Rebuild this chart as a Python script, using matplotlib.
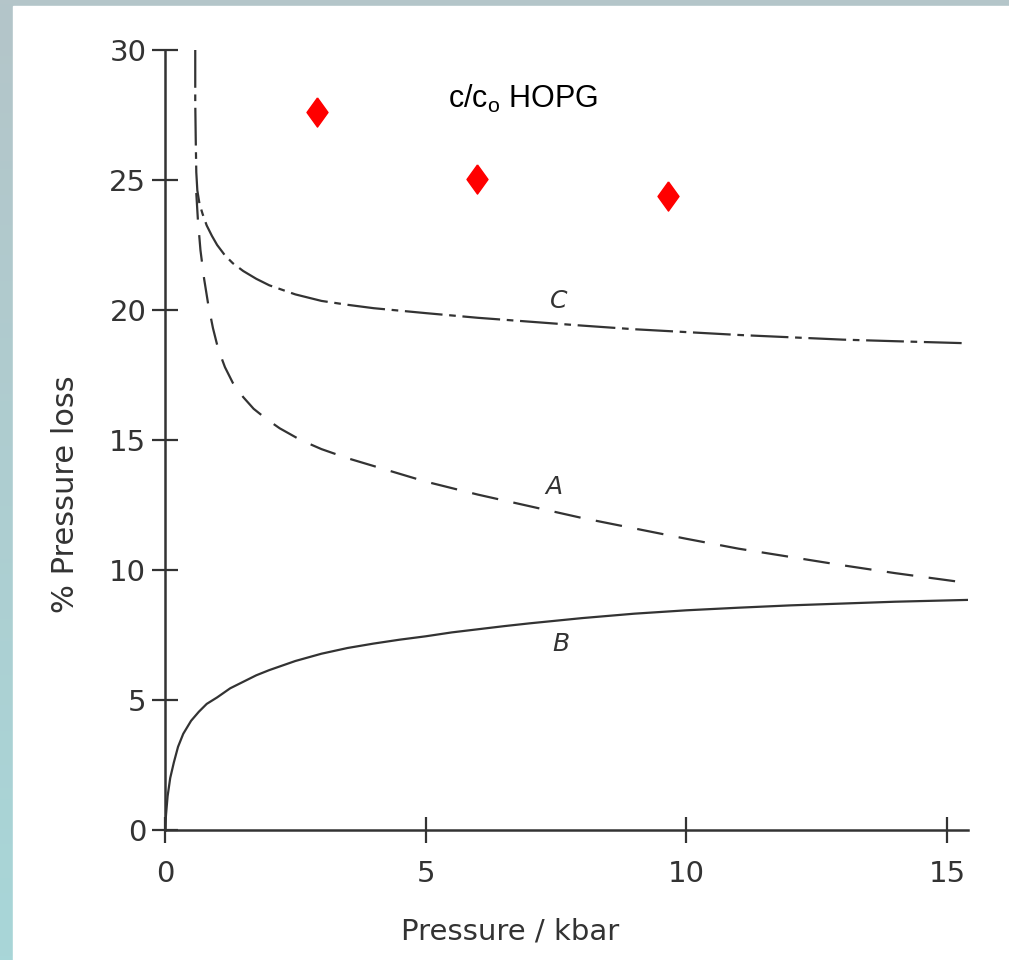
# % pressure loss vs pressure, with c/c0 HOPG points
import numpy as np
import matplotlib.pyplot as plt
from matplotlib.colors import LinearSegmentedColormap

# curve B (solid)
b_x = [0, 0.01, 0.02, 0.05, 0.1, 0.17, 0.25, 0.35, 0.5, 0.65, 0.8, 1.0, 1.25, 1.5, 1.75, 2.0, 2.5,
       3.0, 3.5, 4.0, 4.5, 5.0, 5.5, 6.0, 6.5, 7.0, 8.0, 9.0, 10.0, 11.0, 12.0, 13.0, 14.0, 15.4]
b_y = [0, 0.3, 0.6, 1.3, 2.0, 2.6, 3.2, 3.7, 4.2, 4.55, 4.85, 5.1, 5.45, 5.7, 5.95, 6.15, 6.5,
       6.78, 7.0, 7.17, 7.32, 7.45, 7.6, 7.72, 7.84, 7.95, 8.15, 8.32, 8.45, 8.55, 8.64, 8.71, 8.78, 8.85]

# curve A (dashed)
a_x = [0.6, 0.63, 0.68, 0.75, 0.83, 0.92, 1.02, 1.15, 1.3, 1.5, 1.7, 1.95, 2.2, 2.6, 3.0, 3.5, 4.0,
       4.5, 5.0, 6.0, 7.0, 8.0, 9.0, 10.0, 11.0, 12.0, 13.0, 14.0, 15.4]
a_y = [24.5, 23.5, 22.3, 21.2, 20.2, 19.3, 18.5, 17.8, 17.2, 16.65, 16.2, 15.8, 15.45, 15.0, 14.65,
       14.3, 14.0, 13.7, 13.4, 12.9, 12.45, 12.0, 11.6, 11.2, 10.82, 10.5, 10.18, 9.88, 9.5]

# curve C (dash-dot)
c_x = [0.58, 0.58, 0.59, 0.6, 0.62, 0.66, 0.72, 0.8, 0.9, 1.0, 1.15, 1.3, 1.5, 1.75, 2.0, 2.5, 3.0,
       3.5, 4.0, 5.0, 6.0, 7.0, 8.0, 9.0, 10.0, 11.0, 12.0, 13.0, 14.0, 15.4]
c_y = [30.0, 28.0, 26.5, 25.3, 24.6, 24.1, 23.7, 23.25, 22.85, 22.5, 22.1, 21.8, 21.5, 21.2, 20.95,
       20.6, 20.35, 20.2, 20.07, 19.88, 19.7, 19.55, 19.4, 19.26, 19.15, 19.04, 18.95, 18.86, 18.8, 18.72]

# c/c0 HOPG points
hopg_x = [2.91, 5.98, 9.64]
hopg_y = [27.6, 25.05, 24.4]

xticks = [0, 5, 10, 15]
yticks = [0, 5, 10, 15, 20, 25, 30]

ink = '#333333'

fig = plt.figure(figsize=(10.09, 9.6), dpi=100)

# bluish frame on top and left
bg = fig.add_axes([0, 0, 1, 1], zorder=-10)
bg.axis('off')
cmap = LinearSegmentedColormap.from_list('frame', ['#a8d6d8', '#b4c5c9'])
grad = np.linspace(0, 1, 256).reshape(-1, 1)
bg.imshow(grad, cmap=cmap, aspect='auto', extent=[0, 1, 0, 1], origin='lower')
bg.add_patch(plt.Rectangle((13 / 1009, 0), 1, 1 - 6 / 960, color='white', transform=bg.transAxes))
bg.set_xlim(0, 1)
bg.set_ylim(0, 1)

ax = fig.add_axes([165 / 1009, 130 / 960, 803 / 1009, 780 / 960])
ax.patch.set_alpha(0)

ax.plot(b_x, b_y, color=ink, lw=1.6, ls='-')
ax.plot(a_x, a_y, color=ink, lw=1.6, ls=(0, (12, 7)))
ax.plot(c_x, c_y, color=ink, lw=1.6, ls=(0, (17, 3, 3, 3)), clip_on=False)

diamond = [(0, 1), (0.72, 0), (0, -1), (-0.72, 0), (0, 1)]
ax.plot(hopg_x, hopg_y, ls='none', marker=diamond, ms=21, color='#ff0000', clip_on=False)

ax.text(5.42, 28.1, r'c/c$_\mathregular{o}$ HOPG', fontsize=22, family='Liberation Sans',
        color='black', ha='left', va='center')

ax.text(7.55, 19.9, 'C', fontsize=18, style='italic', color=ink, ha='center', va='bottom')
ax.text(7.45, 12.75, 'A', fontsize=18, style='italic', color=ink, ha='center', va='bottom')
ax.text(7.6, 6.7, 'B', fontsize=18, style='italic', color=ink, ha='center', va='bottom')

ax.set_xlim(0, 15.4)
ax.set_ylim(0, 30)
ax.set_xticks(xticks)
ax.set_yticks(yticks)
ax.tick_params(direction='inout', length=19, width=1.6, color=ink, labelcolor=ink,
               labelsize=21, pad=4)
ax.tick_params(axis='x', pad=12)
for s in ['top', 'right']:
    ax.spines[s].set_visible(False)
for s in ['left', 'bottom']:
    ax.spines[s].set_color(ink)
    ax.spines[s].set_linewidth(1.8)

ax.set_xlabel('Pressure / kbar', fontsize=21, color=ink)
ax.set_ylabel('% Pressure loss', fontsize=22, color=ink)
ax.xaxis.set_label_coords(0.43, -0.112)
ax.yaxis.set_label_coords(-0.106, 0.43)

fig.savefig('out.png', dpi=100)
